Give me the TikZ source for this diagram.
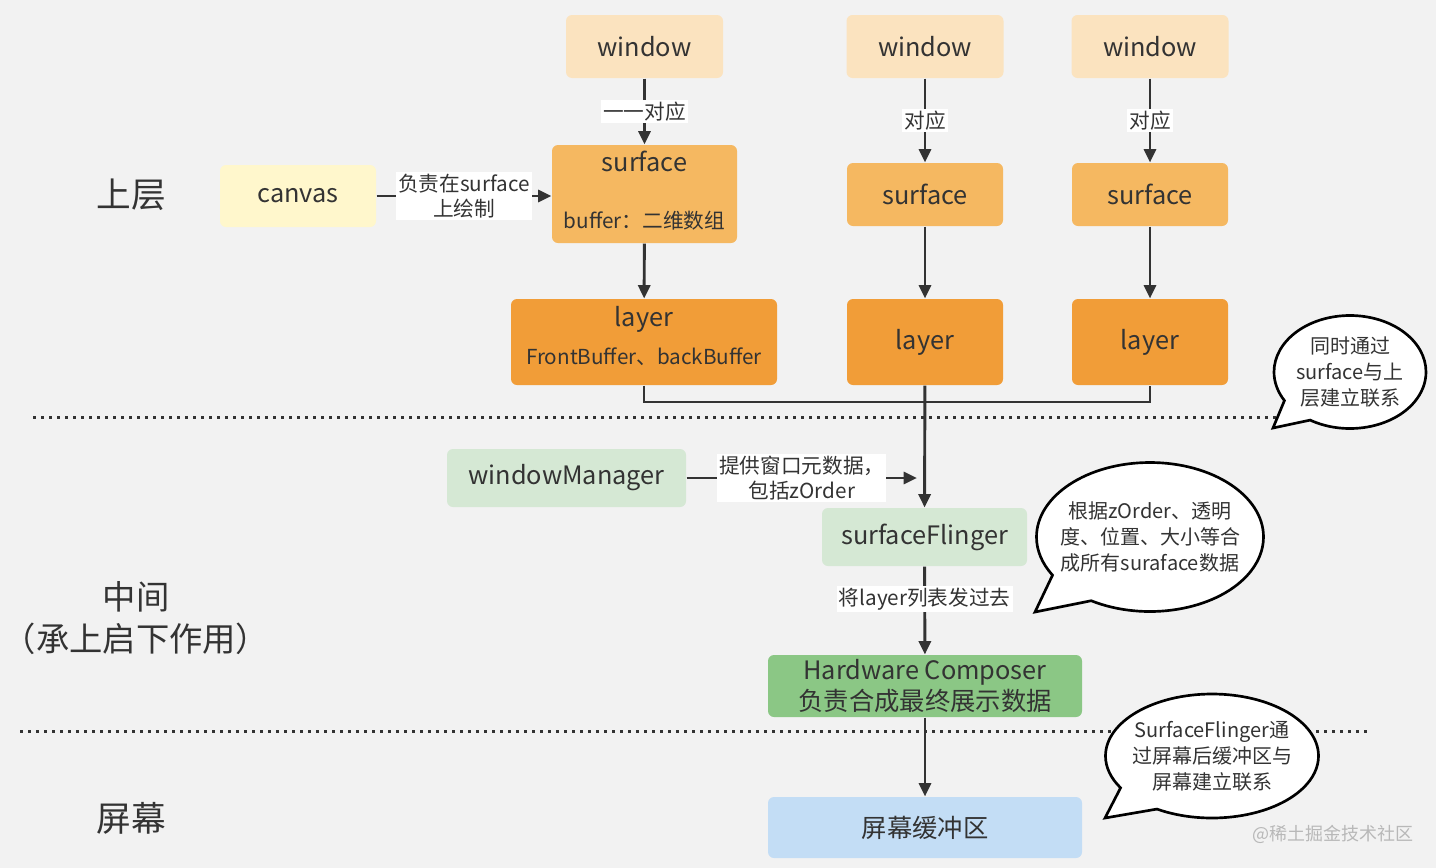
\documentclass[tikz,border=0pt]{standalone}
\usepackage{fontspec}
\setmainfont{Noto Sans CJK SC}
\usepackage{xcolor}
\usetikzlibrary{arrows.meta,shapes.callouts}
\definecolor{bgGrey}{HTML}{F2F2F2}
\definecolor{txtGrey}{HTML}{333333}
\definecolor{lineGrey}{HTML}{333333}
\definecolor{winFill}{HTML}{FBE3BF}
\definecolor{surfFill}{HTML}{F5B861}
\definecolor{layerFill}{HTML}{F19D38}
\definecolor{canvasFill}{HTML}{FFF7CC}
\definecolor{greenFill}{HTML}{D5E8D4}
\definecolor{hwcFill}{HTML}{8BC785}
\definecolor{screenFill}{HTML}{C3DDF5}
\tikzset{every picture/.style={line width=0.75pt}}

\begin{document}
\begin{tikzpicture}[x=0.75pt,y=0.75pt,yscale=-1,xscale=1,
  box/.style={rounded corners=4.5pt, inner sep=0pt, text=txtGrey, align=center, font=\fontsize{19}{23}\selectfont},
  lbl/.style={fill=white, inner sep=1.5pt, text=txtGrey, align=center, font=\fontsize{15.5}{19}\selectfont},
  conn/.style={draw=lineGrey, line width=2.2pt},
  arr/.style={conn, -{Triangle[length=10pt,width=9pt]}},
  dots/.style={draw=lineGrey, line width=2.25pt, dash pattern=on 2.25pt off 3.75pt},
  bubble/.style={ellipse callout, draw=black, fill=white, line width=2pt, callout pointer arc=28, inner ysep=0pt, text=txtGrey, align=center, font=\fontsize{15}{19.5}\selectfont},
  side/.style={inner sep=0pt, text=txtGrey, align=center, font=\fontsize{26}{32}\selectfont}]

% background
\fill[bgGrey] (0,0) rectangle (1436,868);
\useasboundingbox (0,0) rectangle (1436,868);

% layer separators
\draw[dots] (33,417) -- (1290,417);
\draw[dots] (20,731) -- (1368,731);

% side titles
\node[side] (upper) at (131,195) {上层};
\node[side, font=\fontsize{25}{32}\selectfont] (middle) at (136,618) {中间\\（承上启下作用）};
\node[side] (screen) at (131,818) {屏幕};

% windows
\node[box, fill=winFill, minimum width=117.75pt, minimum height=47.25pt] (win1) at (644.5,46.5) {window};
\node[box, fill=winFill, minimum width=117.75pt, minimum height=47.25pt] (win2) at (925,46.5) {window};
\node[box, fill=winFill, minimum width=117.75pt, minimum height=47.25pt] (win3) at (1150,46.5) {window};

% surfaces
\node[box, fill=surfFill, minimum width=138.75pt, minimum height=73.5pt, text depth=6.5pt, font=\fontsize{15.5}{19}\selectfont] (surf1) at (644.5,194) {{\fontsize{19}{23}\selectfont surface}\\[23.5pt]buffer：二维数组};
\node[box, fill=surfFill, minimum width=117pt, minimum height=47.25pt] (surf2) at (925,194.5) {surface};
\node[box, fill=surfFill, minimum width=117pt, minimum height=47.25pt] (surf3) at (1150,194.5) {surface};
\node[box, fill=canvasFill, minimum width=117pt, minimum height=46.5pt] (canvas) at (298,196) {canvas};

% layers
\node[box, fill=layerFill, minimum width=199.5pt, minimum height=64.5pt, text depth=10pt, font=\fontsize{15.5}{19}\selectfont] (layer1) at (644,342) {{\fontsize{19}{23}\selectfont layer}\\[10pt]FrontBuffer、backBuffer};
\node[box, fill=layerFill, minimum width=117pt, minimum height=64.5pt] (layer2) at (925,342) {layer};
\node[box, fill=layerFill, minimum width=117pt, minimum height=64.5pt] (layer3) at (1150,342) {layer};

% middle and screen
\node[box, fill=greenFill, minimum width=179.25pt, minimum height=43.5pt] (wm) at (566.5,478) {windowManager};
\node[box, fill=greenFill, minimum width=153.75pt, minimum height=43.5pt] (flinger) at (924.5,537) {surfaceFlinger};
\node[box, fill=hwcFill, minimum width=235.5pt, minimum height=46.5pt, font=\fontsize{19}{23}\selectfont] (hwc) at (925,686) {Hardware Composer\\负责合成最终展示数据};
\node[box, fill=screenFill, minimum width=235.5pt, minimum height=45.75pt] (buffer) at (925,827.5) {屏幕缓冲区};

% connectors
\draw[arr] (win1) -- node[lbl] {一一对应} (surf1);
\draw[arr] (win2) -- node[lbl] {对应} (surf2);
\draw[arr] (win3) -- node[lbl] {对应} (surf3);
\draw[arr] (canvas) -- node[lbl] {负责在surface\\上绘制} (surf1.west |- canvas);
\draw[arr] (surf1) -- (layer1);
\draw[arr] (surf2) -- (layer2);
\draw[arr] (surf3) -- (layer3);
\coordinate (merge) at (925,402);
\draw[conn] (layer1.south) |- (merge) -| (layer3.south);
\draw[arr] (layer2) -- (flinger);
\coordinate (wmtip) at (917,478);
\draw[arr] (wm) -- node[lbl] {提供窗口元数据，\\包括zOrder} (wmtip);
\draw[arr] (flinger) -- node[lbl, pos=0.37] {将layer列表发过去} (hwc);
\draw[arr] (hwc) -- (buffer);

% notes
\node[bubble, inner xsep=-2pt, minimum width=114pt, minimum height=84.75pt, callout absolute pointer={(1273,428)}] (note1) at (1350,372) {同时通过\\surface与上\\层建立联系};
\node[bubble, inner xsep=-9pt, minimum width=170.25pt, minimum height=111.75pt, callout absolute pointer={(1035,612)}] (note2) at (1150,537) {根据zOrder、透明\\度、位置、大小等合\\成所有suraface数据};
\node[bubble, inner xsep=-4pt, minimum width=159.75pt, minimum height=93pt, callout absolute pointer={(1105,818)}] (note3) at (1212,756) {SurfaceFlinger通\\过屏幕后缓冲区与\\屏幕建立联系};

% watermark
\node[text=black!28, font=\fontsize{13.5}{16}\selectfont] (mark) at (1333,834) {@稀土掘金技术社区};
\end{tikzpicture}
\end{document}
